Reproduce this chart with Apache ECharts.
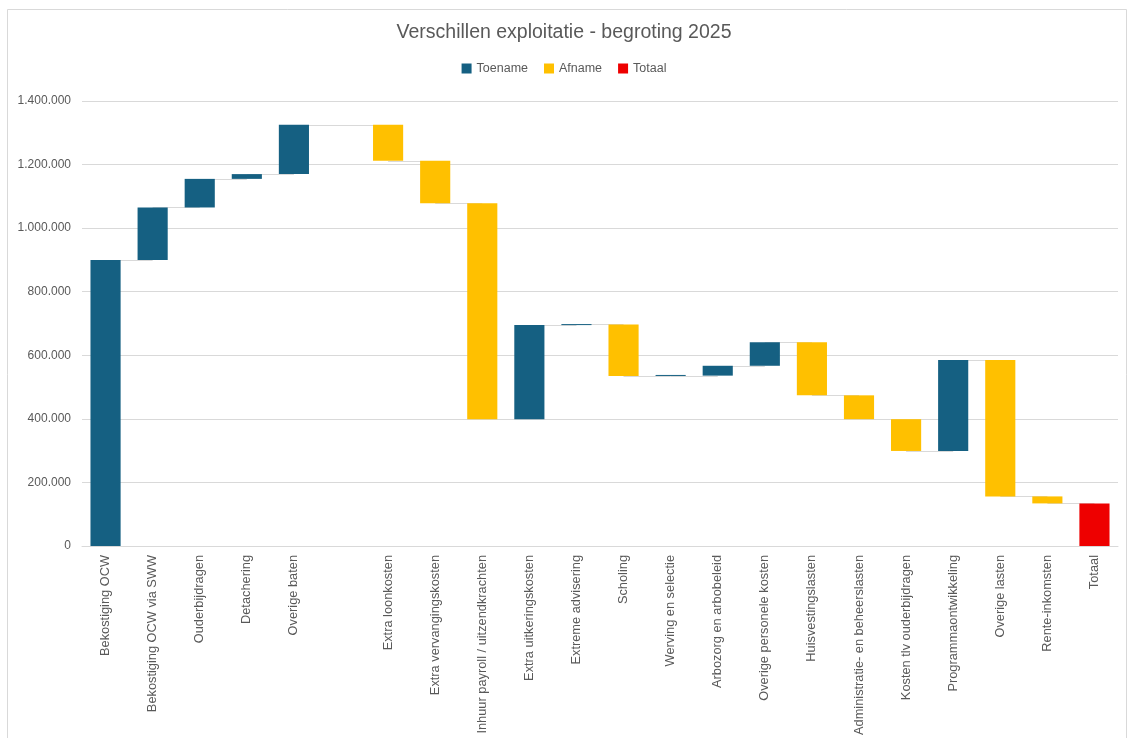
<!DOCTYPE html>
<html>
<head>
<meta charset="utf-8">
<script src="https://cdn.jsdelivr.net/npm/echarts@6/dist/echarts.min.js"></script>
<style>
  html, body { margin: 0; padding: 0; background: #fff; }
  #box { width: 1128px; height: 738px; }
</style>
</head>
<body>
<div id="box"></div>
<script>
// categorieen (lege categorie tussen baten en lasten)
var categories = ['Bekostiging OCW', 'Bekostiging OCW via SWW', 'Ouderbijdragen', 'Detachering', 'Overige baten', '',
  'Extra loonkosten', 'Extra vervangingskosten', 'Inhuur payroll / uitzendkrachten', 'Extra uitkeringskosten',
  'Extreme advisering', 'Scholing', 'Werving en selectie', 'Arbozorg en arbobeleid', 'Overige personele kosten',
  'Huisvestingslasten', 'Administratie- en beheerslasten', 'Kosten tlv ouderbijdragen', 'Programmaontwikkeling',
  'Overige lasten', 'Rente-inkomsten', 'Totaal']

// verschillen per post (laatste = totaal)
var deltas = [900000, 165000, 90000, 15000, 155000, 0,
  -113000, -134000, -679000, 296000,
  2000, -162000, 1000, 31000, 74000,
  -167000, -75000, -100000, 286000,
  -429000, -22000]

var yTicks = [0, 200000, 400000, 600000, 800000, 1000000, 1200000, 1400000]

// waterval opbouwen
var base = [], up = [], down = [], total = [], cum = []
var run = 0
for (var i = 0; i < deltas.length; i++) {
  var d = deltas[i]
  if (d >= 0) {
    base.push(run)
    up.push(d === 0 ? '-' : d)
    down.push('-')
  } else {
    base.push(run + d)
    up.push('-')
    down.push(-d)
  }
  total.push('-')
  run += d
  cum.push(run)
}
base.push(0)
up.push('-')
down.push('-')
total.push(run)
cum.push(run)

var connectors = []
for (var k = 0; k < cum.length - 1; k++) {
  connectors.push([k, cum[k]])
}

function fmt(v) {
  return String(v).replace(/\B(?=(\d{3})+(?!\d))/g, '.')
}

var chart = echarts.init(document.getElementById('box'))

var option = {
  backgroundColor: '#fff',
  animation: false,
  textStyle: { fontFamily: 'Liberation Sans, Arial, sans-serif' },
  title: {
    text: 'Verschillen exploitatie - begroting 2025',
    left: 'center',
    top: 18,
    textStyle: { fontSize: 19.5, fontWeight: 'normal', color: '#595959' }
  },
  legend: {
    top: 57,
    left: 'center',
    icon: 'rect',
    itemWidth: 10,
    itemHeight: 10,
    itemGap: 16,
    textStyle: { fontSize: 12.5, color: '#595959' },
    data: ['Toename', 'Afname', 'Totaal']
  },
  graphic: [{
    type: 'rect',
    shape: { x: 7.5, y: 9.5, width: 1119, height: 740 },
    style: { fill: 'none', stroke: '#d9d9d9', lineWidth: 1 },
    silent: true
  }],
  grid: { left: 82, right: 10, top: 101, bottom: 192, containLabel: false },
  xAxis: {
    type: 'category',
    data: categories,
    axisLine: { lineStyle: { color: '#d9d9d9' } },
    axisTick: { show: false },
    axisLabel: { rotate: 90, interval: 0, fontSize: 12.8, color: '#595959', margin: 9 }
  },
  yAxis: {
    type: 'value',
    min: yTicks[0],
    max: yTicks[yTicks.length - 1],
    interval: yTicks[1] - yTicks[0],
    axisLine: { show: false },
    axisTick: { show: false },
    splitLine: { lineStyle: { color: '#d9d9d9' } },
    axisLabel: { fontSize: 12, color: '#595959', margin: 11, formatter: fmt }
  },
  series: [{
    name: 'verbinding',
    type: 'custom',
    z: 1,
    silent: true,
    data: connectors,
    renderItem: function (params, api) {
      var p1 = api.coord([api.value(0), api.value(1)])
      var p2 = api.coord([api.value(0) + 1, api.value(1)])
      return {
        type: 'line',
        shape: { x1: p1[0], y1: Math.round(p1[1]) + 0.5, x2: p2[0], y2: Math.round(p2[1]) + 0.5 },
        style: { stroke: '#d9d9d9', lineWidth: 1 }
      }
    }
  }, {
    name: 'basis',
    type: 'bar',
    stack: 'wf',
    z: 2,
    silent: true,
    barCategoryGap: '36%',
    itemStyle: { color: 'transparent' },
    data: base
  }, {
    name: 'Toename',
    type: 'bar',
    stack: 'wf',
    z: 3,
    barMinHeight: 1,
    itemStyle: { color: '#156082' },
    data: up
  }, {
    name: 'Afname',
    type: 'bar',
    stack: 'wf',
    z: 3,
    itemStyle: { color: '#FFC000' },
    data: down
  }, {
    name: 'Totaal',
    type: 'bar',
    stack: 'wf',
    z: 3,
    itemStyle: { color: '#EE0000' },
    data: total
  }]
}

chart.setOption(option)
</script>
</body>
</html>
